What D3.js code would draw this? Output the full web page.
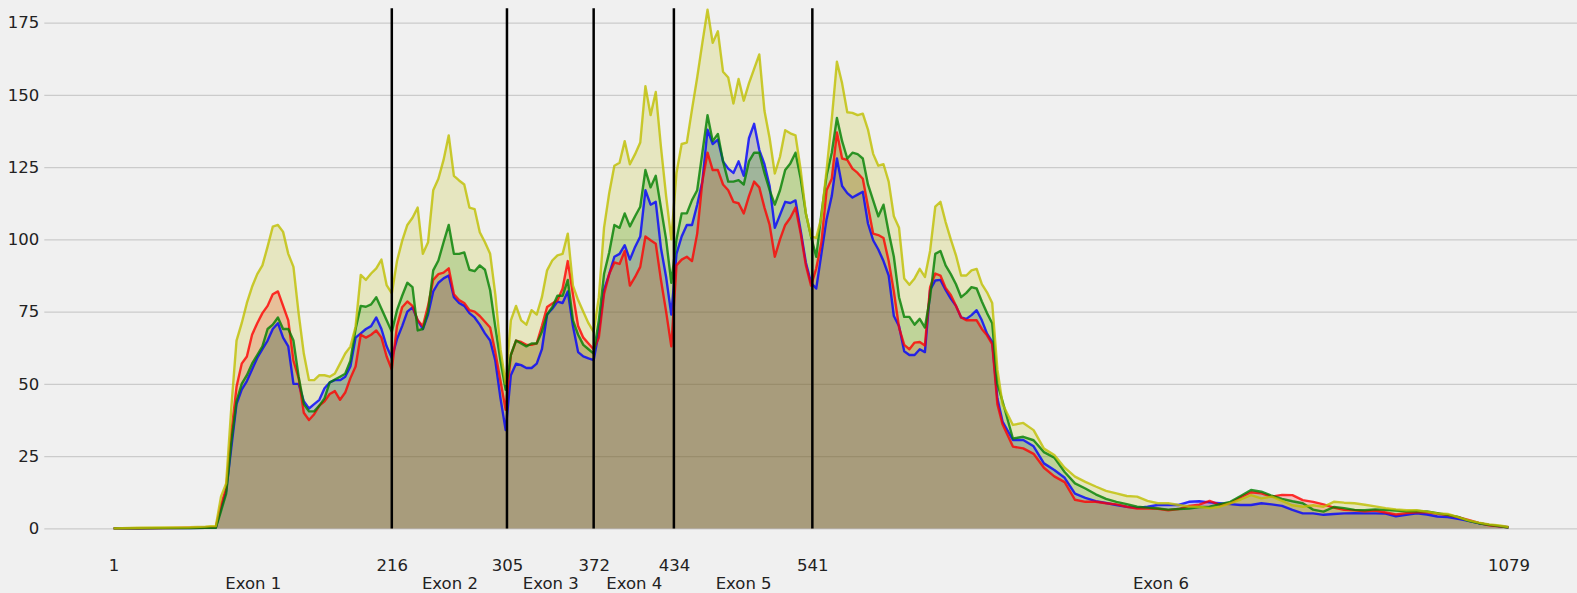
<!DOCTYPE html>
<html>
<head>
<meta charset="utf-8">
<script src="https://cdn.jsdelivr.net/npm/d3@7"></script>
<style>
  html, body { margin: 0; padding: 0; background: #f0f0f0; }
  svg { display: block; font-family: "DejaVu Sans", sans-serif; }
</style>
</head>
<body>
<div id="coverage"></div>
<script>
(() => {

    // sample positions along the transcript (shared by all four series)
    const positions = [1, 20, 40, 60, 72, 76,
        80, 84, 88, 92, 96, 100, 104, 108, 112, 116, 120, 124, 128, 132, 136, 140, 144, 148, 152, 156, 160, 164, 168, 172, 176, 180, 184, 188, 192, 196, 200, 204, 208, 212, 216,
        220, 224, 228, 232, 236, 240, 244, 248, 252, 256, 260, 264, 268, 272, 276, 280, 284, 288, 292, 296, 300, 304, 308, 312, 316, 320, 324, 328, 332, 336, 340, 344, 348, 352, 356, 360, 364, 368, 372,
        376, 380, 384, 388, 392, 396, 400, 404, 408, 412, 416, 420, 424, 428, 432, 436, 440, 444, 448, 452, 456, 460, 464, 468, 472, 476, 480, 484, 488, 492, 496, 500, 504, 508, 512, 516, 520, 524, 528, 532, 536, 540,
        544, 548, 552, 556, 560, 564, 568, 572, 576, 580, 584, 588, 592, 596, 600, 604, 608, 612, 616, 620, 624, 628, 632, 636, 640, 644, 648, 652, 656, 660, 664, 668, 672, 676, 680, 684, 688,
        696, 704, 712, 720, 728, 736, 744, 752, 760, 768, 776, 784, 792, 800, 808, 816, 824, 832, 840, 848, 856, 864, 872, 880,
        888, 896, 904, 912, 920, 928, 936, 944, 952, 960, 968, 976, 984, 992, 1000, 1008, 1016, 1024, 1032, 1040, 1048, 1056, 1064, 1072, 1079];

    const yellowCov = [0, 0.2, 0.3, 0.4, 0.6, 0.8,
        0.8, 11, 15.6, 42, 65, 71, 78, 83.6, 88, 91, 97.5, 104.4, 105, 102.6, 95, 90.5, 74.4, 60.5, 51.3, 51.3, 53, 53, 52.5, 53.6, 57, 60.5, 62.9, 69.8, 87.7, 86, 88.2, 90, 93, 84.2, 81.3,
        92.5, 99.5, 105, 107.5, 111, 95, 99, 117, 121, 127.5, 136, 122, 120.4, 119, 111, 110.5, 102.5, 99, 95, 81, 62, 50, 72, 77, 72, 70.5, 75.5, 74, 80, 89.3, 92.7, 94.5, 95, 102, 84, 79, 75, 71, 68,
        80, 104, 116, 125.5, 126.5, 134, 126, 129.5, 133.5, 153, 143, 151, 132, 115, 100, 123, 133, 133.5, 145, 156, 168, 179.5, 168, 172, 158, 156, 147, 155.5, 148, 154, 159, 164, 144.5, 135, 122.8, 128.6, 137.8, 136.7, 136, 124, 109, 101,
        100.5, 107.7, 124, 141.5, 161.5, 154, 144, 143.8, 143, 143.5, 138, 129.6, 125.5, 126, 120, 108, 104, 86.5, 84.3, 86.5, 89.8, 87, 96, 111.3, 113, 106, 100, 94.5, 87.5, 87.5, 89.3, 89.8, 84.5, 81.7, 78, 55, 43,
        35.8, 36.5, 34, 27.6, 25.4, 21, 17.9, 16.1, 14.5, 13, 12.1, 11.2, 11, 9.5, 8.7, 8.7, 8.1, 7.6, 7.5, 7, 7.5, 8.7, 10, 11.5,
        10.4, 11, 9.5, 8, 7.5, 8, 7.5, 9.2, 8.9, 8.7, 8.2, 7.6, 7, 6.6, 6.3, 6.3, 5.8, 5.2, 5, 3.9, 2.8, 2, 1.4, 1, 0.5];

    const greenCov = [0, 0, 0.1, 0.1, 0.2, 0.2,
        0.2, 6, 12, 30, 44, 50, 53, 57, 60, 63, 69, 70.5, 73, 69, 69, 65, 52.5, 43, 40.5, 40.5, 42.5, 45, 50.5, 51.5, 52.5, 53.5, 58, 69, 77, 76.7, 77.5, 80, 76, 72, 68,
        75.5, 80.5, 85, 83.5, 68.5, 69, 75, 89.3, 92.7, 99, 105, 95, 95, 95.5, 89.5, 89, 91, 89.5, 82.4, 69.7, 58, 48, 60, 65, 64, 63, 64, 64, 68, 74, 76.5, 80.5, 80.5, 86, 72, 67, 63.5, 62, 60.5,
        72, 88, 95.5, 105, 104, 109, 104.5, 108, 111.3, 124, 118, 122, 111, 100, 85, 100, 109, 109, 113.6, 117, 130, 143, 134, 136.5, 127, 120, 120, 120.5, 119, 127, 130, 130, 123, 117, 112, 117, 124, 126.3, 130, 121, 109, 101,
        94, 108.9, 122, 130, 142, 134, 128, 130, 129.5, 128, 119, 113.5, 108, 112, 102.5, 94, 80, 73.2, 73.2, 70.5, 72.5, 69.5, 80, 95, 96, 91, 88, 84.5, 80, 81.5, 83.5, 83, 78.5, 74.5, 71, 50, 44,
        31.1, 31.7, 30.5, 26.4, 24.5, 19.5, 15.6, 13.8, 11.8, 10.2, 9.2, 8.4, 7.5, 7.2, 6.9, 6.5, 6.7, 6.9, 7.4, 7.5, 8.4, 9.2, 11.2, 13.3,
        12.7, 11.3, 10.2, 9.4, 8.7, 6.5, 5.8, 7.4, 7, 6.4, 6.3, 6.6, 6.4, 6.2, 5.9, 6, 5.9, 5.3, 4.7, 4, 2.6, 1.8, 1.2, 0.8, 0.3];

    const redCov = [0, 0, 0.1, 0.2, 0.3, 0.4,
        0.5, 8, 14, 33, 49, 57, 59.5, 67, 71, 74.5, 77, 81, 82, 77, 72, 58, 52, 40, 37.5, 39.5, 42.5, 44, 46.5, 47.5, 44.5, 47, 52, 56, 67, 66, 67, 68.5, 66, 59.5, 55,
        70, 76.5, 78.5, 77, 72, 70, 77, 86, 88, 88.5, 90, 81, 79, 78, 75.5, 75, 73.5, 71.5, 69.5, 61, 51, 41, 60, 65, 64.5, 63.5, 63.5, 64, 70, 76.6, 77.8, 78.9, 83, 92.5, 81, 70, 66, 64, 62,
        66, 81, 88, 92, 91.5, 96, 84, 87, 90.5, 101, 99.7, 98.5, 86, 75, 63, 91, 93, 94, 92.5, 102, 120, 130, 124, 124, 119, 117, 113, 112.5, 109, 115, 120, 118, 111, 105, 94, 100, 105, 107.5, 111, 102, 91, 84,
        90, 99, 117, 121, 137, 128, 127.5, 124.5, 123, 121, 111.5, 102, 101.5, 100.5, 92.5, 82, 69.5, 63.5, 62, 64.3, 64.5, 63.3, 83.5, 88.2, 87.5, 83.2, 80.8, 77, 73, 72, 72, 72, 69, 66.8, 63.8, 43, 36,
        28.3, 27.7, 25.8, 21, 18, 16, 9.9, 9.2, 9.2, 8.7, 8.3, 7.5, 6.9, 6.9, 6.8, 6.3, 6.7, 7.8, 8.2, 9.5, 8.1, 8.8, 10.8, 12.5,
        12.1, 11, 11.6, 11.5, 9.8, 9.2, 8.3, 7.2, 6.4, 6.3, 5.9, 6.2, 5.5, 4.8, 5.3, 5.6, 5.6, 5.1, 4.6, 3.9, 2.9, 1.9, 1.1, 0.7, 0.4];

    const blueCov = [0, 0, 0.1, 0.1, 0.2, 0.2,
        0.3, 7, 13, 28, 43, 48, 51, 55, 59, 62, 65, 69, 71, 66, 63, 50, 50, 44, 41.5, 43, 44.5, 48.5, 50.5, 51.3, 51.3, 52.5, 56, 66, 67.5, 69, 70, 73, 69, 63, 59,
        65.5, 70, 75, 76.5, 72, 69, 74, 82, 85, 86.5, 87.5, 80, 78, 77, 74.5, 73, 70.5, 67.5, 65, 58, 45, 34, 53, 57, 56.5, 55.5, 55.5, 57, 62, 74, 76, 78.5, 78, 82, 70, 61, 59.5, 58.8, 58.2,
        68, 82.5, 88, 94, 95, 98, 93, 97.4, 101, 117, 112, 113, 97, 87, 74, 95, 101, 105, 105, 112, 120, 138, 133, 134.5, 127, 124.5, 123, 127, 122, 135, 140, 131, 126, 118.5, 104, 108.5, 113, 112.6, 113.5, 103, 92, 85,
        83, 95, 107, 115, 128, 118.5, 116, 114.5, 115.5, 116.5, 105.5, 99.7, 96.5, 92.5, 87.5, 73.5, 70, 61.3, 60, 60, 62, 61, 82.5, 85.8, 86, 82.5, 79.5, 77, 73, 72.5, 73.8, 75.5, 72, 67.4, 64.5, 45, 37,
        30.6, 30.6, 28.4, 22.5, 20.2, 17.5, 12, 10.6, 9.4, 8.8, 8.1, 7.5, 7.1, 7.5, 8.1, 8.1, 8.1, 9.2, 9.4, 9, 8.7, 8.4, 8.1, 8.1,
        8.7, 8.3, 7.8, 6.4, 5.2, 5.2, 4.7, 5, 5.2, 5.3, 5.2, 5.2, 5.1, 4.2, 4.7, 5.2, 4.8, 4.1, 3.9, 3.3, 2.6, 1.8, 1.2, 0.7, 0.4];

    // exon boundaries and names
    const exonBounds = [1, 216, 305, 372, 434, 541, 1079];
    const exonNames = ["Exon 1", "Exon 2", "Exon 3", "Exon 4", "Exon 5", "Exon 6"];
    const yTicks = [0, 25, 50, 75, 100, 125, 150, 175];

    const width = 1577, height = 593;
    const plotLeft = 44.3, plotRight = 1577;

    var svg = d3.select("#coverage")
        .append("svg")
        .attr("width", width)
        .attr("height", height);

    svg.append("rect").attr("width", width).attr("height", height).style("fill", "#f0f0f0");

    var x = d3.scaleLinear().domain([1, 1079]).range([113.6, 1508.5]);
    var y = d3.scaleLinear().domain([0, 180]).range([528.4, 8.2]);

    // horizontal grid + y labels
    var yAxis = svg.append("g")
        .attr("transform", "translate(" + plotLeft + ",0)")
        .call(d3.axisLeft(y).tickValues(yTicks).tickSize(-(plotRight - plotLeft)).tickPadding(5));
    yAxis.select(".domain").remove();
    yAxis.selectAll("line").style("stroke", "#cbcbcb").attr("stroke-width", 1.4);
    yAxis.selectAll("text").style("font-size", "16.5px").style("fill", "#222")
        .style("font-family", "DejaVu Sans");

    // series drawn blue, red, green, yellow (matplotlib order)
    const series = [
        { name: "b", values: blueCov, color: "#0000ff" },
        { name: "r", values: redCov, color: "#ff0000" },
        { name: "g", values: greenCov, color: "#008000" },
        { name: "y", values: yellowCov, color: "#bfbf00" }
    ];
    series.forEach(s => {
        if (s.values.length !== positions.length) throw new Error(s.name + " length " + s.values.length + " vs " + positions.length);
    });

    var area = d3.area()
        .x((d, i) => x(positions[i]))
        .y0(y(0))
        .y1(d => y(d));
    var line = d3.line()
        .x((d, i) => x(positions[i]))
        .y(d => y(d));

    svg.selectAll("path.fill")
        .data(series)
        .enter()
        .append("path")
        .attr("class", "fill")
        .attr("d", d => area(d.values))
        .style("fill", d => d.color)
        .style("fill-opacity", 0.2);

    svg.selectAll("path.cov")
        .data(series)
        .enter()
        .append("path")
        .attr("class", "cov")
        .attr("d", d => line(d.values))
        .style("fill", "none")
        .style("stroke", d => d.color)
        .style("stroke-opacity", 0.8)
        .attr("stroke-width", 2.4)
        .attr("stroke-linejoin", "round");

    // exon boundary lines
    svg.selectAll("line.exon")
        .data(exonBounds.slice(1, -1))
        .enter()
        .append("line")
        .attr("class", "exon")
        .attr("x1", d => x(d)).attr("x2", d => x(d))
        .attr("y1", y(0)).attr("y2", y(180))
        .style("stroke", "black")
        .attr("stroke-width", 2.5);

    // boundary tick labels
    var xAxis = svg.append("g")
        .call(d3.axisBottom(x).tickValues(exonBounds).tickFormat(d3.format("d")).tickSize(0));
    xAxis.select(".domain").remove();
    xAxis.selectAll("text").attr("y", 571.2).attr("dy", null)
        .style("font-size", "16.5px").style("fill", "#222").style("font-family", "DejaVu Sans");

    // exon names at the middle of each exon
    const exonMids = exonNames.map((n, i) => (exonBounds[i] + exonBounds[i + 1]) / 2);
    var exonAxis = svg.append("g")
        .call(d3.axisBottom(x).tickValues(exonMids).tickFormat((d, i) => exonNames[i]).tickSize(0));
    exonAxis.select(".domain").remove();
    exonAxis.selectAll("text").attr("y", 589).attr("dy", null)
        .style("font-size", "16.5px").style("fill", "#222").style("font-family", "DejaVu Sans");

})();
</script>
</body>
</html>
